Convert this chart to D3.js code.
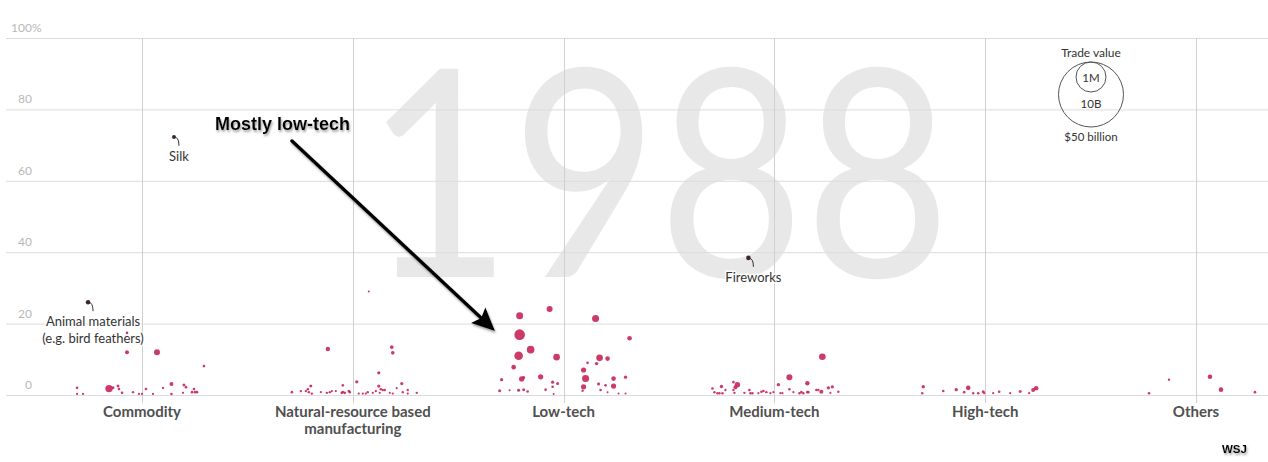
<!DOCTYPE html>
<html>
<head>
<meta charset="utf-8">
<title>1988</title>
<script src="https://cdn.jsdelivr.net/npm/d3@7"></script>
<style>
  body { margin: 0; background: #fff; }
  svg { display: block; font-family: Lato, "Open Sans", sans-serif; }
</style>
</head>
<body>
<div id="chart"></div>
<script>
  var categories = ["Commodity", "Natural-resource based\nmanufacturing", "Low-tech", "Medium-tech", "High-tech", "Others"];
  var yTicks = [0, 20, 40, 60, 80, 100];

  // each product: [spread inside the column, share %, trade value $M]
  var commodity = [
    [-15, 12.0, 142], [15, 12.0, 320], [62, 8.1, 60], [-15, 17.4, 60], [-33, 1.8, 487],
    [-29, 2.0, 80], [-24, 2.5, 80], [-23, 1.7, 60], [-65, 2.0, 60], [-65, 0.3, 43],
    [-59, 0.3, 43], [-20, 0.6, 60], [-9, 0.8, 51], [-3, 0.3, 43], [0, 0.3, 43],
    [4, 1.7, 60], [11, 0.3, 43], [21, 2.0, 51], [29.5, 3.1, 142], [29.5, 0.3, 60],
    [41, 0.6, 43], [42, 2.8, 80], [44, 2.2, 60], [52, 1.7, 60], [50, 0.8, 60],
    [53, 0.8, 60], [55, 0.8, 60]
  ];
  var naturalResource = [
    [-25, 12.9, 172], [39, 13.4, 115], [40, 11.8, 115], [26, 6.2, 91], [4, 3.7, 91],
    [26, 2.5, 91], [49, 3.2, 91], [-42, 2.5, 80], [-10, 2.7, 60], [16, 29.0, 36],
    [-61, 0.8, 60], [-52, 1.1, 51], [-47, 1.1, 51], [-45, 1.6, 60], [-44, 0.8, 51],
    [-41, 0.4, 51], [-32, 0.8, 43], [-26, 0.6, 51], [-23, 0.8, 51], [-21, 1.1, 43],
    [-17, 1.1, 43], [-11, 0.6, 60], [-10, 0.8, 60], [-8, 0.6, 60], [-4, 1.1, 60],
    [-3, 0.8, 60], [6, 0.4, 43], [10, 0.4, 43], [13, 0.4, 43], [15, 0.8, 51],
    [20, 0.6, 43], [23, 1.1, 51], [28, 1.6, 51], [30, 1.4, 51], [32, 1.4, 51],
    [27, 0.6, 43], [37, 0.6, 43], [40, 0.4, 43], [44, 1.9, 43], [50, 0.8, 51],
    [55, 1.4, 51], [55, 0.4, 43], [64, 0.6, 51]
  ];
  var lowTech = [
    [-44, 22.2, 436], [-14, 24.1, 320], [-44, 16.9, 1000], [-45, 11.0, 658], [-33, 12.7, 514],
    [-7, 10.6, 388], [-50, 7.8, 188], [-62, 4.3, 91], [-42, 4.5, 241], [-40, 4.9, 91],
    [-23, 5.1, 241], [-11, 3.6, 91], [-6, 3.2, 80], [-11, 2.3, 60], [-64, 1.2, 80],
    [-54, 1.3, 36], [-45, 1.3, 80], [-40, 1.5, 80], [-36, 1.0, 60], [-18, 1.5, 60],
    [-10, 0.3, 36], [32, 21.4, 436], [66, 15.9, 188], [36, 10.4, 388], [44, 10.2, 188],
    [24, 9.0, 60], [33, 8.8, 103], [20, 7.0, 241], [22, 4.6, 436], [20, 2.3, 241],
    [19, 1.2, 51], [35, 3.1, 80], [42, 2.7, 60], [50, 4.6, 188], [50, 2.5, 241],
    [62, 5.0, 103], [37, 1.4, 60], [44, 0.8, 36], [55, 0.4, 36], [62, 0.4, 36]
  ];
  var mediumTech = [
    [48, 10.7, 388], [15, 5.0, 320], [-37, 2.9, 260], [-39, 2.2, 142], [-41, 3.6, 60],
    [-53, 2.4, 103], [-62, 1.8, 60], [-60, 0.8, 51], [-57, 0.5, 51], [-55, 0.5, 51],
    [-52, 0.5, 51], [-49, 1.4, 51], [-41, 1.4, 51], [-40, 0.6, 51], [-30, 0.6, 51],
    [-25, 1.4, 60], [-24, 0.5, 51], [-22, 0.5, 51], [-16, 0.5, 43], [-13, 0.9, 60],
    [-11, 1.1, 60], [-8, 0.8, 51], [-4, 0.5, 43], [-1, 0.8, 43], [4, 2.9, 103],
    [6, 0.5, 43], [8, 0.5, 43], [15, 1.6, 60], [19, 0.8, 43], [25, 0.5, 51],
    [27, 0.8, 60], [29, 0.5, 51], [33, 3.3, 172], [33, 0.8, 60], [34, 0.8, 60],
    [42, 1.4, 60], [44, 1.4, 51], [47, 0.9, 142], [54, 2.0, 103], [58, 2.3, 91],
    [56, 0.6, 43], [64, 0.9, 51]
  ];
  var highTech = [
    [-62, 2.3, 103], [-63, 0.5, 51], [-42, 1.1, 60], [-29, 1.5, 103], [-17, 2.0, 188],
    [-21, 0.8, 60], [-12, 0.5, 51], [-7, 0.5, 60], [-2, 0.9, 80], [-1, 0.5, 43],
    [8, 0.5, 43], [14, 0.9, 60], [25, 0.5, 43], [35, 1.0, 80], [44, 0.5, 43],
    [48, 1.4, 142], [51, 1.9, 188]
  ];
  var others = [
    [-47, 0.5, 60], [-27, 4.3, 51], [14, 5.1, 188], [25, 1.5, 188], [59, 0.8, 60]
  ];
  // labelled products: [category index, spread, share %, trade value $M, label lines]
  var highlights = [
    [0, -54, 26.0, 188, ["Animal materials", "(e.g. bird feathers)"]],
    [0, 32, 72.3, 142, ["Silk"]],
    [3, -26, 38.4, 188, ["Fireworks"]]
  ];
  var groups = [commodity, naturalResource, lowTech, mediumTech, highTech, others];

  var W = 1268, H = 462;
  var svg = d3.select("#chart").append("svg").attr("width", W).attr("height", H);

  var defs = svg.append("defs");
  var f = defs.append("filter").attr("id", "shadow").attr("x", "-20%").attr("y", "-20%").attr("width", "140%").attr("height", "160%");
  f.append("feDropShadow").attr("dx", 1).attr("dy", 2).attr("stdDeviation", 1.2)
    .attr("flood-color", "#777").attr("flood-opacity", 0.7);

  var x = d3.scalePoint().domain(categories).range([142, 1196]);
  var spread = d3.scaleLinear().domain([-105.5, 105.5]).range([-x.step() / 2, x.step() / 2]);
  var y = d3.scaleLinear().domain([0, 100]).range([395, 38]);
  var r = d3.scaleSqrt().domain([0, 1000]).range([0, 5.3]);

  // big year in the background
  svg.append("text")
    .attr("transform", "translate(658,277) scale(0.87,1)")
    .attr("text-anchor", "middle")
    .attr("font-size", 290)
    .attr("font-weight", 400)
    .attr("fill", "#e8e8e8")
    .text("1988");

  // grid
  svg.append("g").selectAll("line").data(yTicks).enter().append("line")
    .attr("x1", 6).attr("x2", W)
    .attr("y1", function(d) { return y(d) + 0.5; })
    .attr("y2", function(d) { return y(d) + 0.5; })
    .attr("stroke", "#dcdcdc").attr("stroke-width", 1);
  svg.append("g").selectAll("line").data(categories).enter().append("line")
    .attr("x1", function(d) { return Math.round(x(d)) + 0.5; })
    .attr("x2", function(d) { return Math.round(x(d)) + 0.5; })
    .attr("y1", y(100)).attr("y2", y(0) + 8)
    .attr("stroke", "#d0d0d0").attr("stroke-width", 1);

  // y labels
  var yl = svg.append("g").attr("font-size", 12).attr("fill", "#b8b8b8");
  yl.selectAll("text").data(yTicks).enter().append("text")
    .attr("x", 32).attr("y", function(d) { return y(d) - 6; })
    .attr("text-anchor", "end")
    .text(function(d) { return d; });
  yl.append("text").attr("x", 32).attr("y", y(100) - 6).text("%");

  // category labels
  var cl = svg.append("g").attr("font-size", 15).attr("font-weight", 700).attr("fill", "#505050").attr("text-anchor", "middle");
  categories.forEach(function(c) {
    var t = cl.append("text").attr("x", x(c)).attr("y", 417);
    c.split("\n").forEach(function(line, i) {
      t.append("tspan").attr("x", x(c)).attr("dy", i ? 17 : 0).text(line);
    });
  });

  // dots
  var dots = svg.append("g");
  groups.forEach(function(g, i) {
    var cx = x(categories[i]);
    dots.append("g").selectAll("circle").data(g).enter().append("circle")
      .attr("cx", function(d) { return cx + spread(d[0]); })
      .attr("cy", function(d) { return y(d[1]); })
      .attr("r", function(d) { return r(d[2]); })
      .attr("fill", "#c8295a")
      .attr("fill-opacity", 0.92);
  });

  // labelled products
  var hl = svg.append("g");
  highlights.forEach(function(h) {
    var px = x(categories[h[0]]) + spread(h[1]), py = y(h[2]);
    hl.append("path")
      .attr("d", "M" + px + "," + py + " q5,0 5,9")
      .attr("fill", "none").attr("stroke", "#333").attr("stroke-width", 1);
    hl.append("circle").attr("cx", px).attr("cy", py).attr("r", r(h[3])).attr("fill", "#3a2a2f");
    var t = hl.append("text")
      .attr("x", px + 5).attr("y", py + 24)
      .attr("text-anchor", "middle").attr("font-size", 13).attr("fill", "#333")
      .attr("stroke", "#fff").attr("stroke-width", 3).attr("stroke-opacity", 0.8)
      .attr("paint-order", "stroke");
    h[4].forEach(function(line, i) {
      t.append("tspan").attr("x", px + 5).attr("dy", i ? 17 : 0).text(line);
    });
  });

  // "Mostly low-tech" arrow
  var a0 = [292, 141], a1 = [495, 331];
  var dx = a1[0] - a0[0], dy = a1[1] - a0[1], len = Math.sqrt(dx * dx + dy * dy);
  var ux = dx / len, uy = dy / len, hlen = 23, hw = 10.5;
  var bx = a1[0] - ux * hlen, by = a1[1] - uy * hlen;
  var ann = svg.append("g").attr("filter", "url(#shadow)");
  ann.append("line")
    .attr("x1", a0[0]).attr("y1", a0[1]).attr("x2", bx + ux * 3).attr("y2", by + uy * 3)
    .attr("stroke", "#000").attr("stroke-width", 3.5).attr("stroke-linecap", "round");
  ann.append("path")
    .attr("d", "M" + a1[0] + "," + a1[1] +
      "L" + (bx - uy * hw) + "," + (by + ux * hw) +
      "L" + (bx + ux * 4) + "," + (by + uy * 4) +
      "L" + (bx + uy * hw) + "," + (by - ux * hw) + "Z")
    .attr("fill", "#000");
  ann.append("text")
    .attr("x", 215).attr("y", 130)
    .attr("font-family", "'Liberation Sans', Arial, sans-serif")
    .attr("font-size", 18).attr("font-weight", 700).attr("fill", "#000")
    .text("Mostly low-tech");

  // size legend
  var lg = svg.append("g").attr("text-anchor", "middle").attr("fill", "#333");
  lg.append("circle").attr("cx", 1091).attr("cy", 94.5).attr("r", 32.5)
    .attr("fill", "none").attr("stroke", "#555");
  lg.append("circle").attr("cx", 1091).attr("cy", 77).attr("r", 15)
    .attr("fill", "none").attr("stroke", "#555");
  lg.append("text").attr("x", 1091).attr("y", 57).attr("font-size", 12).text("Trade value");
  lg.append("text").attr("x", 1091).attr("y", 82).attr("font-size", 11.5).text("1M");
  lg.append("text").attr("x", 1091).attr("y", 108).attr("font-size", 11.5).text("10B");
  lg.append("text").attr("x", 1091).attr("y", 141).attr("font-size", 11.5).text("$50 billion");

  // logo
  svg.append("text")
    .attr("x", 1222).attr("y", 453)
    .attr("font-family", "'Liberation Sans', Arial, sans-serif")
    .attr("font-size", 11.5).attr("font-weight", 700).attr("fill", "#000")
    .attr("filter", "url(#shadow)")
    .text("WSJ");
</script>
</body>
</html>
